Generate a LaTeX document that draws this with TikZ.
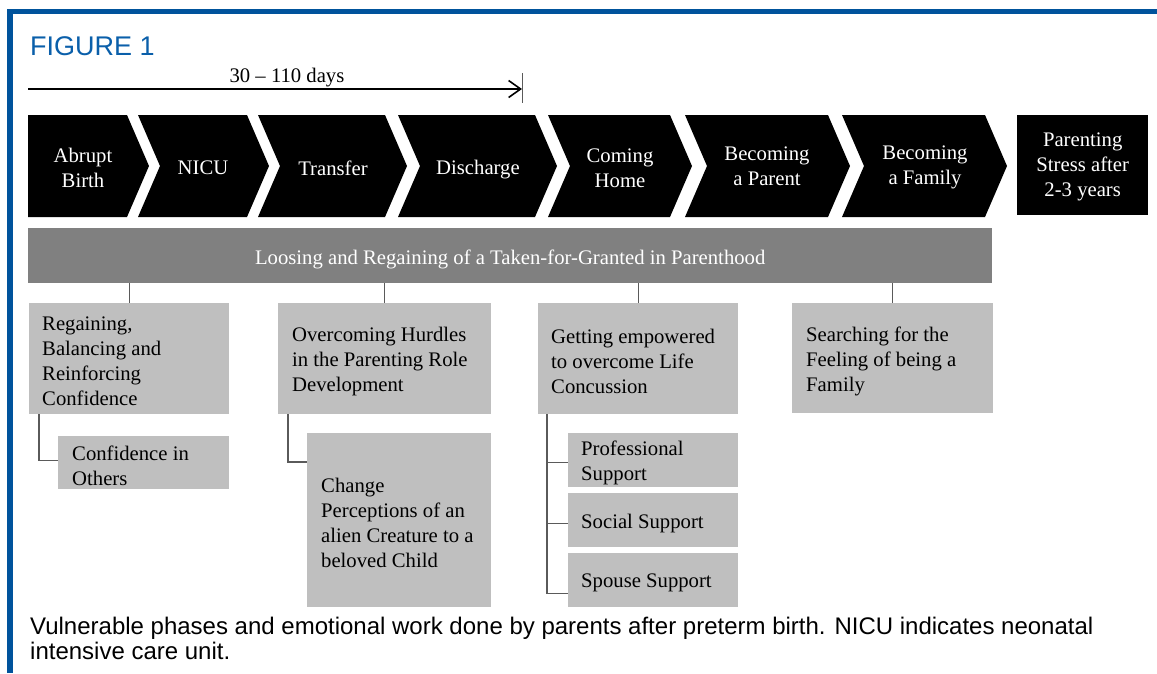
\documentclass[tikz,border=0pt]{standalone}
\usepackage{fontspec}
\setmainfont{Liberation Serif}
\newfontfamily\capfont{Liberation Sans}
\usetikzlibrary{arrows.meta}
\definecolor{frameblue}{RGB}{0,83,156}
\definecolor{figblue}{RGB}{10,95,170}
\definecolor{bargray}{RGB}{128,128,128}
\definecolor{boxgray}{RGB}{191,191,191}
\definecolor{conngray}{RGB}{90,90,90}
\begin{document}
\begin{tikzpicture}[x=1pt,y=-1pt,
  chev/.style={fill=black},
  chevtext/.style={text=white, align=center, inner sep=0pt, yshift=-2pt, font=\fontsize{20.7}{25}\selectfont},
  barbox/.style={fill=bargray, inner sep=0pt, anchor=north west},
  gbox/.style={fill=boxgray, draw=none, inner sep=0pt, anchor=north west},
  btext/.style={align=left, anchor=west, inner sep=0pt, yshift=-3pt, font=\fontsize{20.7}{25}\selectfont},
  conn/.style={draw=conngray, line width=1.2pt},
  captext/.style={anchor=base west, inner sep=0pt, font=\capfont\fontsize{24}{25}\selectfont}
]
\fill[white] (0,0) rectangle (1157,673);
\useasboundingbox (0,0) rectangle (1157,673);
% frame
\fill[frameblue] (8,9) rectangle (1157,14);
\fill[frameblue] (7,9) rectangle (13,673);
% title
\node[anchor=base west, inner sep=0pt, text=figblue, font=\capfont\fontsize{27}{30}\selectfont] (fig) at (30,55) {FIGURE 1};
% time arrow
\coordinate (arrS) at (28,89);
\coordinate (arrE) at (522,89);
\coordinate (tickT) at (522,73);
\coordinate (tickB) at (522,103);
\draw[line width=1.8pt, -{Straight Barb[length=12pt,width=17pt,line width=1.6pt]}] (arrS) -- (arrE);
\draw[conngray, line width=0.8pt] (tickT) -- (tickB);
\node[inner sep=0pt, font=\fontsize{20.7}{25}\selectfont] (days) at (287,78) {30 -- 110 days};
% chevrons
\fill[chev] (28,115) -- (127,115) -- (149,166) -- (127,217) -- (28,217) -- cycle;
\fill[chev] (138,115) -- (247,115) -- (269,166) -- (247,217) -- (138,217) -- (160,166) -- cycle;
\fill[chev] (258,115) -- (385,115) -- (407,166) -- (385,217) -- (258,217) -- (280,166) -- cycle;
\fill[chev] (398,115) -- (535,115) -- (557,166) -- (535,217) -- (398,217) -- (420,166) -- cycle;
\fill[chev] (548,115) -- (670,115) -- (692,166) -- (670,217) -- (548,217) -- (570,166) -- cycle;
\fill[chev] (685,115) -- (828,115) -- (850,166) -- (828,217) -- (685,217) -- (707,166) -- cycle;
\fill[chev] (842,115) -- (985,115) -- (1007,166) -- (985,217) -- (842,217) -- (864,166) -- cycle;
\node[chevtext] (c1) at (83,166) {Abrupt\\Birth};
\node[chevtext] (c2) at (203,166) {NICU};
\node[chevtext] (c3) at (333,166) {Transfer};
\node[chevtext] (c4) at (478,168) {Discharge};
\node[chevtext] (c5) at (620,166) {Coming\\Home};
\node[chevtext] (c6) at (767,164) {Becoming\\a Parent};
\node[chevtext] (c7) at (925,165) {Becoming\\a Family};
\node[fill=black, inner sep=0pt, anchor=north west, minimum width=131pt, minimum height=100pt] (ps) at (1017,115) {};
\node[chevtext] (pst) at (ps.center) {Parenting\\Stress after\\2-3 years};
% main bar
\node[barbox, minimum width=964pt, minimum height=55pt] (bar) at (28,228) {};
\node[chevtext] (bart) at ([yshift=-2pt]bar.center) {Loosing and Regaining of a Taken-for-Granted in Parenthood};
% boxes
\node[gbox, minimum width=200pt, minimum height=111pt] (A) at (29,303) {};
\node[btext] (At) at ([xshift=13pt]A.west) {Regaining,\\Balancing and\\Reinforcing\\Confidence};
\node[gbox, minimum width=171pt, minimum height=53pt] (A1) at (58,436) {};
\node[btext] (A1t) at ([xshift=14pt]A1.west) {Confidence in\\Others};
\node[gbox, minimum width=213pt, minimum height=111pt] (B) at (278,303) {};
\node[btext] (Bt) at ([xshift=14pt]B.west) {Overcoming Hurdles\\in the Parenting Role\\Development};
\node[gbox, minimum width=184pt, minimum height=174pt] (B1) at (307,433) {};
\node[btext] (B1t) at ([xshift=14pt]B1.west) {Change\\Perceptions of an\\alien Creature to a\\beloved Child};
\node[gbox, minimum width=200pt, minimum height=111pt] (C) at (538,303) {};
\node[btext] (Ct) at ([xshift=13pt]C.west) {Getting empowered\\to overcome Life\\Concussion};
\node[gbox, minimum width=170pt, minimum height=54pt] (C1) at (568,433) {};
\node[btext] (C1t) at ([xshift=13pt]C1.west) {Professional\\Support};
\node[gbox, minimum width=170pt, minimum height=54pt] (C2) at (568,493) {};
\node[btext] (C2t) at ([xshift=13pt]C2.west) {Social Support};
\node[gbox, minimum width=170pt, minimum height=54pt] (C3) at (568,553) {};
\node[btext] (C3t) at ([xshift=13pt]C3.west) {Spouse Support};
\node[gbox, minimum width=201pt, minimum height=110pt] (D) at (792,303) {};
\node[btext] (Dt) at ([xshift=14pt]D.west) {Searching for the\\Feeling of being a\\Family};
% connectors
\draw[conn] (bar.south -| A.north) -- (A.north);
\draw[conn] (bar.south -| B.north) -- (B.north);
\draw[conn] (bar.south -| C.north) -- (C.north);
\draw[conn] (bar.south -| D.north) -- (D.north);
\draw[conn] ([xshift=10pt]A.south west) |- ([yshift=2.5pt]A1.west);
\draw[conn] ([xshift=10pt]B.south west) |- ([yshift=-29pt]B1.north west);
\draw[conn] ([xshift=9pt]C.south west) |- ([yshift=-2pt]C1.west);
\draw[conn] ([xshift=9pt]C.south west) |- ([yshift=-3pt]C2.west);
\draw[conn] ([xshift=9pt]C.south west) |- ([yshift=-13pt]C3.west);
% caption
\node[captext] (cap1) at (30,634) {Vulnerable phases and emotional work done by parents after preterm birth. NICU indicates neonatal};
\node[captext] (cap2) at (30,659) {intensive care unit.};
\end{tikzpicture}
\end{document}
